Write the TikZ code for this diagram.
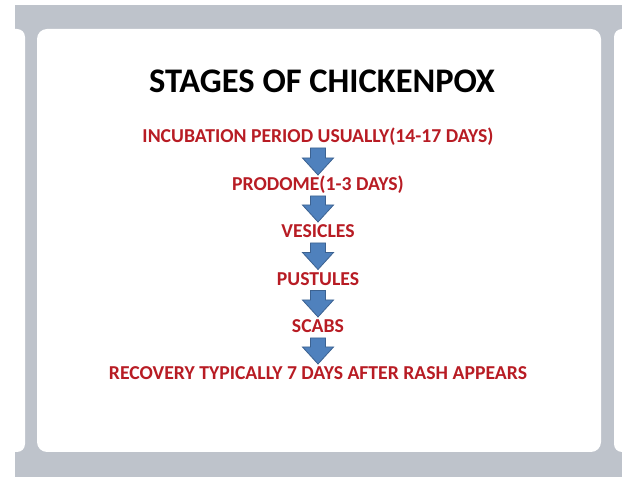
\documentclass[tikz,border=0pt]{standalone}
\usepackage{fontspec}
\setmainfont{Carlito}
\usetikzlibrary{calc}
\definecolor{framegray}{RGB}{190,195,203}
\definecolor{txtred}{RGB}{184,28,36}
\definecolor{arrblue}{RGB}{79,129,189}
\definecolor{arredge}{RGB}{60,98,145}
\tikzset{
  titletext/.style={font=\bfseries\fontsize{34.5}{40}\selectfont, text=black, inner sep=0pt, anchor=base},
  stagetext/.style={font=\bfseries\fontsize{19.7}{24}\selectfont, text=txtred, inner sep=0pt, anchor=base},
  blockarrow/.style={fill=arrblue, draw=arredge, line width=0.8pt, line join=miter}
}
\newcommand\stagearrow[2]{%
  \filldraw[blockarrow] let \p1=(#1.base), \p2=(#2.base) in
    (318pt-7.5pt,\y1-5pt) -- (318pt+7.5pt,\y1-5pt) -- (318pt+7.5pt,\y2+33pt)
    -- (318pt+15.5pt,\y2+33pt) -- (318pt,\y2+16pt) -- (318pt-15.5pt,\y2+33pt)
    -- (318pt-7.5pt,\y2+33pt) -- cycle;}
\begin{document}
\begin{tikzpicture}[x=1pt,y=-1pt]
\useasboundingbox (0,0) rectangle (638,478);
\fill[white] (0,0) rectangle (638,478);
\fill[framegray] (15,5) rectangle (622,477);
\fill[white, rounded corners=8pt] (-20,29) rectangle (25,452);
\fill[white, rounded corners=8pt] (614,29) rectangle (660,452);
\fill[white, rounded corners=10pt] (37,29) rectangle (601,452);
\node[titletext] (t) at (322,93) {STAGES OF CHICKENPOX};
\path (318,143) node[stagetext] (s1) {\phantom{X}}
      (318,191) node[stagetext] (s2) {\phantom{X}}
      (318,238) node[stagetext] (s3) {\phantom{X}}
      (318,285.5) node[stagetext] (s4) {\phantom{X}}
      (318,333) node[stagetext] (s5) {\phantom{X}}
      (318,380) node[stagetext] (s6) {\phantom{X}};
\stagearrow{s1}{s2}
\stagearrow{s2}{s3}
\stagearrow{s3}{s4}
\stagearrow{s4}{s5}
\stagearrow{s5}{s6}
\node[stagetext] at (s1.base) {INCUBATION PERIOD USUALLY(14-17 DAYS)};
\node[stagetext] at (s2.base) {PRODOME(1-3 DAYS)};
\node[stagetext] at (s3.base) {VESICLES};
\node[stagetext] at (s4.base) {PUSTULES};
\node[stagetext] at (s5.base) {SCABS};
\node[stagetext] at (s6.base) {RECOVERY TYPICALLY 7 DAYS AFTER RASH APPEARS};
\end{tikzpicture}
\end{document}
